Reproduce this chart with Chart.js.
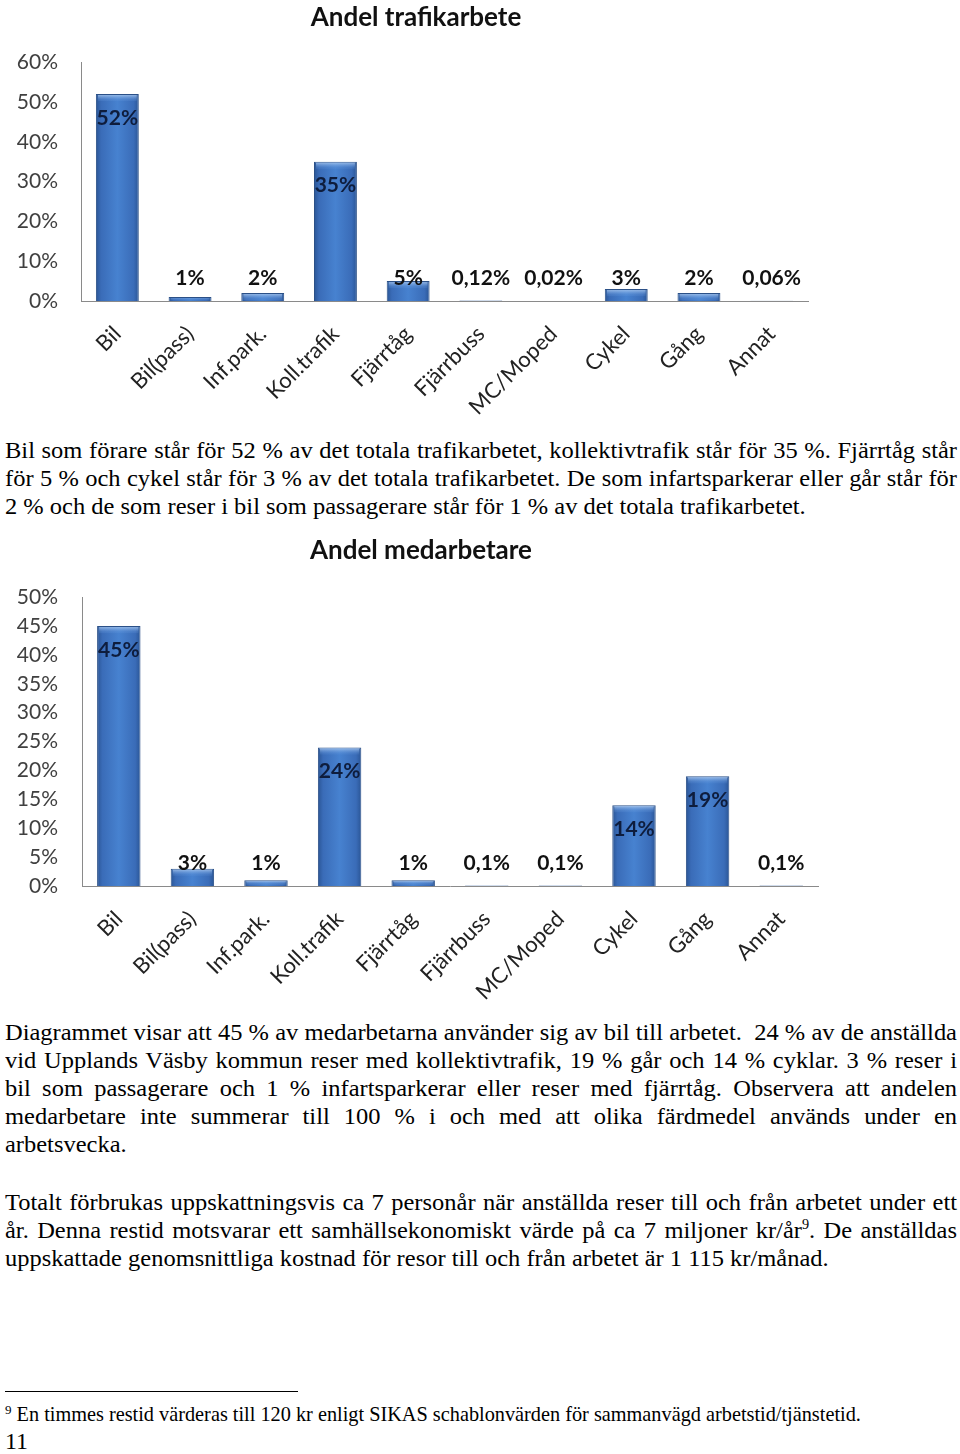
<!DOCTYPE html>
<html lang="sv">
<head>
<meta charset="utf-8">
<title>Andel trafikarbete / Andel medarbetare</title>
<script src="https://cdn.jsdelivr.net/npm/chart.js@4/dist/chart.umd.min.js"></script>
<style>
  html, body { margin: 0; padding: 0; background: #fff; }
  #page { position: relative; width: 960px; height: 1454px; overflow: hidden; }
  canvas { position: absolute; left: 0; }
  #c1 { top: 0; }
  #c2 { top: 530px; }
  .txt {
    position: absolute; left: 5px;
    font-family: "Liberation Serif", "Times New Roman", serif;
    font-size: 24px; color: #000;
  }
  .ln {
    height: 28px; line-height: 28px;
    white-space: nowrap;
    transform-origin: 0 50%;
  }
  .j { text-align: justify; text-align-last: justify; }
  sup { font-size: 14px; line-height: 0; vertical-align: 9px; }
  #rule { position: absolute; left: 5px; top: 1391px; width: 293px; height: 1px; background: #000; }
  #fn { position: absolute; left: 5px; top: 1403px; font-family: "Liberation Serif", serif; font-size: 20.3px; white-space: nowrap; }
  #fn sup { font-size: 13px; vertical-align: 7px; }
  #pg { position: absolute; left: 5px; top: 1428px; font-family: "Liberation Serif", serif; font-size: 24px; }
</style>
</head>
<body>
<div id="page">
  <canvas id="c1" width="832" height="420"></canvas>

  <div class="txt" id="p1" style="top:436px">
    <div class="ln j">Bil som förare står för 52 % av det totala trafikarbetet, kollektivtrafik står för 35 %. Fjärrtåg står</div>
    <div class="ln j">för 5 % och cykel står för 3 % av det totala trafikarbetet. De som infartsparkerar eller går står för</div>
    <div class="ln">2 % och de som reser i bil som passagerare står för 1 % av det totala trafikarbetet.</div>
  </div>

  <canvas id="c2" width="842" height="480"></canvas>

  <div class="txt" id="p2" style="top:1018px">
    <div class="ln j">Diagrammet visar att 45 % av medarbetarna använder sig av bil till arbetet.&nbsp; 24 % av de anställda</div>
    <div class="ln j">vid Upplands Väsby kommun reser med kollektivtrafik, 19 % går och 14 % cyklar. 3 % reser i</div>
    <div class="ln j">bil som passagerare och 1 % infartsparkerar eller reser med fjärrtåg. Observera att andelen</div>
    <div class="ln j">medarbetare inte summerar till 100 % i och med att olika färdmedel används under en</div>
    <div class="ln">arbetsvecka.</div>
  </div>

  <div class="txt" id="p3" style="top:1188px">
    <div class="ln j">Totalt förbrukas uppskattningsvis ca 7 personår när anställda reser till och från arbetet under ett</div>
    <div class="ln j">år. Denna restid motsvarar ett samhällsekonomiskt värde på ca 7 miljoner kr/år<sup>9</sup>. De anställdas</div>
    <div class="ln">uppskattade genomsnittliga kostnad för resor till och från arbetet är 1 115 kr/månad.</div>
  </div>

  <div id="rule"></div>
  <div id="fn"><sup>9</sup> En timmes restid värderas till 120 kr enligt SIKAS schablonvärden för sammanvägd arbetstid/tjänstetid.</div>
  <div id="pg">11</div>
</div>

<script>
// data
const kategorier = ["Bil", "Bil(pass)", "Inf.park.", "Koll.trafik", "Fjärrtåg",
                    "Fjärrbuss", "MC/Moped", "Cykel", "Gång", "Annat"];
const trafikarbete = [52, 1, 2, 35, 5, 0.12, 0.02, 3, 2, 0.06];
const medarbetare = [45, 3, 1, 24, 1, 0.1, 0.1, 14, 19, 0.1];
const ticks1 = [0, 10, 20, 30, 40, 50, 60];
const ticks2 = [0, 5, 10, 15, 20, 25, 30, 35, 40, 45, 50];

const BAR_PCT = 0.59;
const textWidth = 952;
const textScale = 1.02;

function procent(v) {
    return String(v).replace(".", ",") + "%";
}

// Excel-like blue bars, darker at the edges
function barFill(ctx) {
    const chart = ctx.chart;
    const x = chart.scales && chart.scales.x;
    if (!x || !chart.chartArea) return "#3b6fbf";
    const cx = x.getPixelForValue(ctx.dataIndex);
    const w = (x.getPixelForValue(1) - x.getPixelForValue(0)) * BAR_PCT;
    const g = chart.ctx.createLinearGradient(cx - w / 2, 0, cx + w / 2, 0);
    g.addColorStop(0, "#2a5595");
    g.addColorStop(0.12, "#3a6cb8");
    g.addColorStop(0.5, "#4782d0");
    g.addColorStop(0.88, "#3a6cb8");
    g.addColorStop(1, "#2a5595");
    return g;
}

// light bevel strip at the top of each bar
const bevel = {
    id: "bevel",
    afterDatasetsDraw(chart) {
        const ctx = chart.ctx;
        chart.getDatasetMeta(0).data.forEach(bar => {
            const h = Math.abs(bar.base - bar.y);
            if (h < 3) return;
            const bh = Math.min(6, h - 2);
            const g = ctx.createLinearGradient(0, bar.y, 0, bar.y + bh);
            g.addColorStop(0, "rgba(190,215,245,0.85)");
            g.addColorStop(1, "rgba(110,160,225,0.2)");
            ctx.save();
            ctx.fillStyle = g;
            ctx.fillRect(bar.x - bar.width / 2 + 2, bar.y + 1, bar.width - 4, bh);
            ctx.restore();
        });
    }
};

// value labels: inside end of tall bars, just above the axis for short ones
const pctLabels = {
    id: "pctLabels",
    afterDatasetsDraw(chart) {
        const ctx = chart.ctx;
        const vals = chart.data.datasets[0].data;
        const base = chart.scales.y.getPixelForValue(0);
        ctx.save();
        ctx.font = "bold 21px Lato";
        ctx.textAlign = "center";
        ctx.textBaseline = "middle";
        chart.getDatasetMeta(0).data.forEach((bar, i) => {
            let y = bar.y + 24;
            const inside = y < base - 23;
            if (!inside) y = base - 23;
            ctx.fillStyle = inside ? "#0e1d3d" : "#111111";
            ctx.fillText(procent(vals[i]), bar.x, y);
        });
        ctx.restore();
    }
};

function makeChart(id, title, values, tickList, opts) {
    const ctx = document.getElementById(id).getContext("2d");
    return new Chart(ctx, {
        type: "bar",
        data: {
            labels: kategorier,
            datasets: [{
                label: title,
                data: values,
                backgroundColor: barFill,
                borderColor: "#2b5087",
                borderWidth: 1,
                borderSkipped: "bottom",
                barPercentage: BAR_PCT,
                categoryPercentage: 1
            }]
        },
        options: {
            responsive: false,
            animation: false,
            layout: { padding: 0 },
            plugins: {
                legend: { display: false },
                tooltip: { enabled: false },
                title: {
                    display: true,
                    text: title,
                    color: "#111",
                    font: { family: "Lato", size: 26, weight: "bold", lineHeight: 1.2 },
                    padding: { top: opts.titleTop, bottom: opts.titleBottom }
                }
            },
            scales: {
                x: {
                    grid: { display: false, drawTicks: false },
                    border: { display: true, color: "#8a8a8a", width: 1 },
                    ticks: {
                        color: "#222",
                        font: { family: "Lato", size: 22 },
                        minRotation: 45,
                        maxRotation: 45,
                        autoSkip: false,
                        padding: opts.xPad
                    },
                    afterFit: s => { s.height = opts.xHeight; }
                },
                y: {
                    min: 0,
                    max: tickList[tickList.length - 1],
                    afterBuildTicks: s => { s.ticks = tickList.map(v => ({ value: v })); },
                    grid: { display: false, drawTicks: false },
                    border: { display: true, color: "#8a8a8a", width: 1 },
                    ticks: {
                        color: "#404040",
                        font: { family: "Lato", size: 21 },
                        padding: opts.yPad,
                        callback: v => v + "%"
                    },
                    afterFit: s => { s.width = opts.yWidth; }
                },
                // empty right-hand margin, so the title centres over the picture like the original
                marg: {
                    position: "right",
                    grid: { display: false, drawTicks: false },
                    border: { display: false },
                    ticks: { display: false },
                    afterFit: s => { s.width = opts.rightMargin; }
                }
            }
        },
        plugins: [bevel, pctLabels]
    });
}

makeChart("c1", "Andel trafikarbete", trafikarbete, ticks1, {
    titleTop: 2, titleBottom: 29, xPad: 20, xHeight: 119, yWidth: 81, yPad: 23, rightMargin: 24
});
makeChart("c2", "Andel medarbetare", medarbetare, ticks2, {
    titleTop: 5, titleBottom: 31, xPad: 20, xHeight: 124, yWidth: 82, yPad: 24, rightMargin: 24
});

// stretch each text line slightly to the 952px column like the scanned page
document.querySelectorAll(".ln").forEach(el => {
    el.style.width = (textWidth / textScale) + "px";
    el.style.transform = "scaleX(" + textScale + ")";
});
</script>
</body>
</html>
